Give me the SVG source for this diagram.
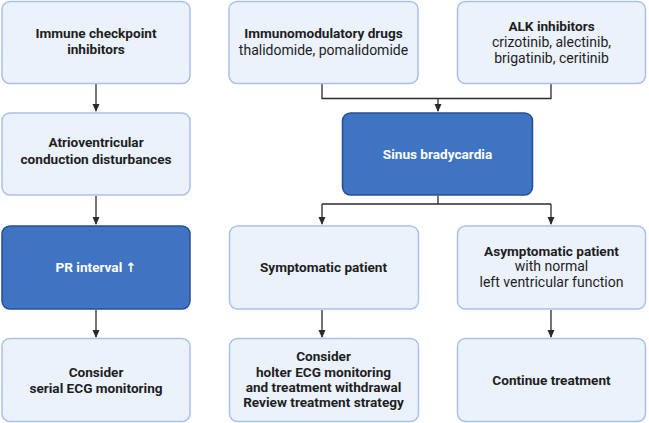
<svg xmlns="http://www.w3.org/2000/svg" width="649" height="423" viewBox="0 0 649 423">
<defs>
<style>
.lb{fill:#ebf2fc;stroke:#a9c1e9;stroke-width:1.5}
.db{fill:#3e74c1;stroke:#274d96;stroke-width:1.5}
text{font-family:Roboto,"Liberation Sans",sans-serif;font-size:14px;text-anchor:middle;fill:#1e1e1e}
.b{font-weight:bold;font-size:13.6px}
.w{fill:#ffffff;font-weight:bold;font-size:13.6px}
.c{fill:none;stroke:#2b2b2b;stroke-width:1.3}
</style>
<marker id="arr" markerWidth="8" markerHeight="9" refX="8" refY="4" orient="auto" markerUnits="userSpaceOnUse" viewBox="0 0 9 8">
<path d="M0,0 L9,4 L0,8 Z" fill="#2b2b2b"/>
</marker>
</defs>
<g id="connectors">
<path class="c" d="M96,84 V111" marker-end="url(#arr)"/>
<path class="c" d="M96,196 V224" marker-end="url(#arr)"/>
<path class="c" d="M96,310 V337" marker-end="url(#arr)"/>
<path class="c" d="M322,84 V98.5 H551 V84"/>
<path class="c" d="M438,98.5 V111" marker-end="url(#arr)"/>
<path class="c" d="M438,196 V204"/>
<path class="c" d="M322,204 H551"/>
<path class="c" d="M322,204 V224" marker-end="url(#arr)"/>
<path class="c" d="M551,204 V224" marker-end="url(#arr)"/>
<path class="c" d="M322,310 V337" marker-end="url(#arr)"/>
<path class="c" d="M551,310 V337" marker-end="url(#arr)"/>
</g>
<g id="n1">
<rect class="lb" x="2" y="1.5" width="188" height="82" rx="8"/>
<text class="b" x="96" y="38">Immune checkpoint</text>
<text class="b" x="96" y="54">inhibitors</text>
</g>
<g id="n2">
<rect class="lb" x="229" y="1.5" width="189" height="82" rx="8"/>
<text class="b" x="323.5" y="38">Immunomodulatory drugs</text>
<text x="323.5" y="55">thalidomide, pomalidomide</text>
</g>
<g id="n3">
<rect class="lb" x="457.5" y="1.5" width="188" height="82" rx="8"/>
<text class="b" x="551.5" y="31">ALK inhibitors</text>
<text x="551.5" y="47">crizotinib, alectinib,</text>
<text x="551.5" y="63">brigatinib, ceritinib</text>
</g>
<g id="n4">
<rect class="lb" x="2" y="113" width="188" height="82" rx="8"/>
<text class="b" x="96" y="147">Atrioventricular</text>
<text class="b" x="96" y="164">conduction disturbances</text>
</g>
<g id="n5">
<rect class="db" x="342.5" y="113" width="190" height="82" rx="8"/>
<text class="w" x="437.5" y="159">Sinus bradycardia</text>
</g>
<g id="n6">
<rect class="db" x="2" y="226" width="188" height="83" rx="8"/>
<text class="w" x="96" y="272">PR interval <tspan font-family="'DejaVu Sans',sans-serif" font-size="13px">↑</tspan></text>
</g>
<g id="n7">
<rect class="lb" x="229.5" y="226" width="189" height="83" rx="8"/>
<text class="b" x="323.5" y="272">Symptomatic patient</text>
</g>
<g id="n8">
<rect class="lb" x="457.5" y="226" width="188" height="83" rx="8"/>
<text class="b" x="551.5" y="256">Asymptomatic patient</text>
<text x="551.5" y="271">with normal</text>
<text x="551.5" y="287">left ventricular function</text>
</g>
<g id="n9">
<rect class="lb" x="2" y="338.5" width="188" height="83" rx="8"/>
<text class="b" x="96" y="377">Consider</text>
<text class="b" x="96" y="393">serial ECG monitoring</text>
</g>
<g id="n10">
<rect class="lb" x="229.5" y="338.5" width="189" height="83" rx="8"/>
<text class="b" x="323.5" y="361">Consider</text>
<text class="b" x="323.5" y="377">holter ECG monitoring</text>
<text class="b" x="323.5" y="392">and treatment withdrawal</text>
<text class="b" x="323.5" y="407">Review treatment strategy</text>
</g>
<g id="n11">
<rect class="lb" x="457.5" y="338.5" width="188" height="83" rx="8"/>
<text class="b" x="551.5" y="385">Continue treatment</text>
</g>
</svg>
